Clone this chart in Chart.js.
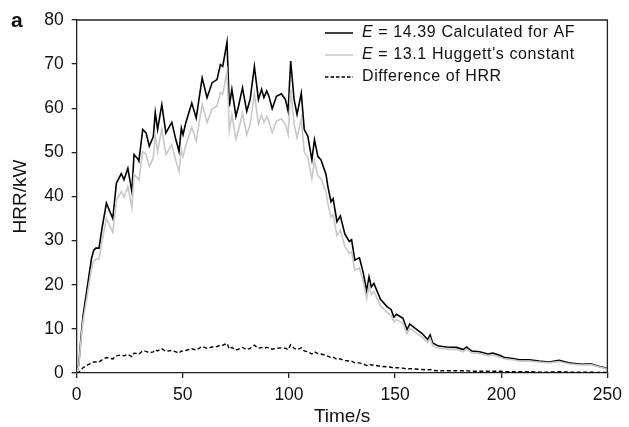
<!DOCTYPE html>
<html>
  <head>
    <title>HRR chart</title>
    <script src="https://cdn.jsdelivr.net/npm/chart.js"></script>
    <style>
      body { margin: 0; background: #fff; }
    </style>
  </head>
  <body>
    <canvas id="hrr-chart" width="629" height="427"></canvas>

    <script>
      // Data
      const timeS = [0, 1, 2, 3, 5, 7, 8, 9, 10.5, 12, 14, 17, 18.7, 21, 22.3, 24.1, 26, 27, 28.8, 29.3,
        31.1, 32.7, 34.2, 36.1, 37, 38.1, 40.1, 42, 44.8, 46.7, 48.2, 49.3, 50.1, 51.4, 54.2, 56.3, 59.1, 61.4, 63.8, 66.1,
        67.7, 68.8, 70.8, 71.9, 73.1, 75, 76.2, 78.1, 80.1, 81.7, 83.7, 85.6, 87.1, 88.2, 89.5, 90.5, 92.1, 94.1, 96.4, 98.3,
        99.6, 100.8, 102.4, 103.8, 105.8, 107.2, 108.9, 110.8, 112, 113.6, 115.1, 117.5, 118.3, 119.8, 120.8, 122.6, 124.2, 126.3, 128.4, 129.5,
        131, 133.2, 135, 136.6, 137.7, 138.8, 140, 143.1, 146.3, 148.1, 149.4, 150.7, 153.7, 155.6, 156.9, 159.5, 162.6, 165.3, 166.5, 167.7,
        170.4, 174.3, 178.9, 182.1, 183.6, 186, 189.8, 193.7, 196, 199.2, 201.5, 205.4, 208.5, 213.2, 217.8, 222.5, 227.2, 231.8, 238.1, 242,
        245.9, 250];

      const hrrAF = [0, 2, 8, 13, 19.5, 26, 27.8, 28.3, 28.3, 33, 38.5, 35, 43, 45.2, 43.8, 46.4, 41.1, 49.5, 48.5, 48,
        55.2, 54.4, 51.4, 53.6, 59, 55.2, 60.8, 54.4, 56.8, 52.9, 50.2, 55.5, 54, 56.7, 61.2, 57.8, 66.9, 62.4, 65.8, 66.5,
        69.9, 69.5, 75, 60.4, 64.3, 58.2, 60.4, 64.6, 59.3, 62, 69.5, 62, 64.3, 62.4, 63.9, 62.8, 59.9, 62.7, 63.3, 62,
        59.3, 70.7, 62, 58.6, 63.4, 55.2, 53.6, 48.3, 52.9, 49.1, 48.3, 44.9, 42.3, 38.8, 39.5, 34.3, 35.6, 31.5, 29.8, 30.2,
        25.6, 26.1, 22.7, 18.6, 21.8, 19.5, 20.3, 16.7, 15, 14.4, 12.7, 13.3, 12.4, 9.8, 11.1, 10.1, 9, 7.6, 8.6, 6.8,
        6.1, 5.9, 5.8, 5.3, 5.9, 5, 4.8, 4.3, 4.5, 4, 3.5, 3.3, 3, 3, 2.7, 2.5, 2.9, 2.3, 2, 2.1,
        1.5, 1];

      const hrrHuggett = [0, 1.8, 7.3, 11.8, 17.7, 23.7, 25.3, 25.8, 25.8, 30.0, 35.0, 31.9, 39.1, 41.1, 39.9, 42.2, 37.4, 45.0, 44.1, 43.7,
        50.2, 49.5, 46.8, 48.8, 53.7, 50.2, 55.3, 49.5, 51.7, 48.1, 45.7, 50.5, 49.1, 51.6, 55.7, 52.6, 60.9, 56.8, 59.9, 60.5,
        63.6, 63.2, 68.3, 55.0, 58.5, 53.0, 55.0, 58.8, 54.0, 56.4, 63.2, 56.4, 58.5, 56.8, 58.1, 57.1, 54.5, 57.1, 57.6, 56.4,
        54.0, 64.3, 56.4, 53.3, 57.7, 50.2, 48.8, 44.0, 48.1, 44.7, 44.0, 40.9, 38.5, 35.3, 35.9, 31.2, 32.4, 28.7, 27.1, 27.5,
        23.3, 23.8, 20.7, 16.9, 19.8, 17.7, 18.5, 15.2, 13.7, 13.1, 11.6, 12.1, 11.3, 8.9, 10.1, 9.2, 8.2, 6.9, 7.8, 6.2,
        5.6, 5.4, 5.3, 4.8, 5.4, 4.6, 4.4, 3.9, 4.1, 3.6, 3.2, 3.0, 2.7, 2.7, 2.5, 2.3, 2.6, 2.1, 1.8, 1.9,
        1.4, 0.9];

      const hrrDiff = [0, 0.2, 0.7, 1.2, 1.8, 2.3, 2.5, 2.5, 2.5, 3.0, 3.5, 3.2, 3.9, 4.1, 3.9, 4.2, 3.7, 4.5, 4.4, 4.3,
        5.0, 4.9, 4.6, 4.8, 5.3, 5.0, 5.5, 4.9, 5.1, 4.8, 4.5, 5.0, 4.9, 5.1, 5.5, 5.2, 6.0, 5.6, 5.9, 6.0,
        6.3, 6.3, 6.7, 5.4, 5.8, 5.2, 5.4, 5.8, 5.3, 5.6, 6.3, 5.6, 5.8, 5.6, 5.8, 5.7, 5.4, 5.6, 5.7, 5.6,
        5.3, 6.4, 5.6, 5.3, 5.7, 5.0, 4.8, 4.3, 4.8, 4.4, 4.3, 4.0, 3.8, 3.5, 3.6, 3.1, 3.2, 2.8, 2.7, 2.7,
        2.3, 2.3, 2.0, 1.7, 2.0, 1.8, 1.8, 1.5, 1.4, 1.3, 1.1, 1.2, 1.1, 0.9, 1.0, 0.9, 0.8, 0.7, 0.8, 0.6,
        0.5, 0.5, 0.5, 0.5, 0.5, 0.4, 0.4, 0.4, 0.4, 0.4, 0.3, 0.3, 0.3, 0.3, 0.2, 0.2, 0.3, 0.2, 0.2, 0.2,
        0.1, 0.1];

      const xTicks = [0, 50, 100, 150, 200, 250];
      const yTicks = [0, 10, 20, 30, 40, 50, 60, 70, 80];

      const toPoints = (ys) => timeS.map((t, i) => ({ x: t, y: ys[i] }));

      const FONT = "'Liberation Sans', Arial, sans-serif";
      const AXIS = '#222';

      // frame on top and right, legend with italic E, panel letter
      const extras = {
        id: 'extras',
        afterDraw(chart) {
          const ctx = chart.ctx;
          const a = chart.chartArea;
          ctx.save();
          ctx.strokeStyle = AXIS;
          ctx.lineWidth = 1.3;
          ctx.beginPath();
          ctx.moveTo(a.left, a.top);
          ctx.lineTo(a.right, a.top);
          ctx.lineTo(a.right, a.bottom);
          ctx.stroke();

          const items = [
            { color: '#000', dash: [], width: 1.5, rest: ' = 14.39 Calculated for AF' },
            { color: '#c8c8c8', dash: [], width: 1.5, rest: ' = 13.1 Huggett\'s constant' },
            { color: '#000', dash: [3.5, 2], width: 1.3, text: 'Difference of HRR' },
          ];
          const x0 = 325, x1 = 353, tx = 362;
          const rows = [33, 55, 77];
          ctx.textBaseline = 'middle';
          ctx.letterSpacing = '0.6px';
          items.forEach((it, i) => {
            const y = rows[i];
            ctx.strokeStyle = it.color;
            ctx.lineWidth = it.width;
            ctx.setLineDash(it.dash);
            ctx.beginPath();
            ctx.moveTo(x0, y);
            ctx.lineTo(x1, y);
            ctx.stroke();
            ctx.setLineDash([]);
            ctx.fillStyle = '#111';
            if (it.text) {
              ctx.font = '16px ' + FONT;
              ctx.fillText(it.text, tx, y);
            } else {
              ctx.font = 'italic 16px ' + FONT;
              ctx.fillText('E', tx, y);
              const w = ctx.measureText('E').width;
              ctx.font = '16px ' + FONT;
              ctx.fillText(it.rest, tx + w, y);
            }
          });
          ctx.letterSpacing = '0px';

          ctx.font = 'bold 21px ' + FONT;
          ctx.textBaseline = 'alphabetic';
          ctx.fillStyle = '#111';
          ctx.fillText('a', 11, 27);
          ctx.restore();
        }
      };

      const data = {
        datasets: [
          {
            label: 'Difference of HRR',
            data: toPoints(hrrDiff),
            borderColor: '#000',
            borderWidth: 1.4,
            borderDash: [4, 2.5],
          },
          {
            label: "E = 13.1 Huggett's constant",
            data: toPoints(hrrHuggett),
            borderColor: '#c8c8c8',
            borderWidth: 1.6,
          },
          {
            label: 'E = 14.39 Calculated for AF',
            data: toPoints(hrrAF),
            borderColor: '#000',
            borderWidth: 1.6,
          },
        ],
      };

      const options = {
        responsive: false,
        animation: false,
        layout: { padding: { top: 20, right: 17, left: 0, bottom: 0 } },
        elements: { point: { radius: 0 }, line: { tension: 0 } },
        plugins: { legend: { display: false }, tooltip: { enabled: false } },
        scales: {
          x: {
            type: 'linear',
            min: 0,
            max: 250,
            afterFit: (s) => { s.height = 54; },
            afterBuildTicks: (s) => { s.ticks = xTicks.map((v) => ({ value: v })); },
            grid: { display: true, drawOnChartArea: false, drawTicks: true, tickLength: 5, color: AXIS, lineWidth: 1.3 },
            border: { display: true, color: AXIS, width: 1.3 },
            ticks: { color: '#111', padding: 7, maxRotation: 0, font: { family: FONT, size: 17.5 } },
            title: { display: true, text: 'Time/s', color: '#111', padding: { top: 0, bottom: 0.5 }, font: { family: FONT, size: 19, lineHeight: 1 } },
          },
          y: {
            min: 0,
            max: 80,
            afterFit: (s) => { s.width = 76.7; },
            afterBuildTicks: (s) => { s.ticks = yTicks.map((v) => ({ value: v })); },
            grid: { display: true, drawOnChartArea: false, drawTicks: true, tickLength: 5, color: AXIS, lineWidth: 1.3 },
            border: { display: true, color: AXIS, width: 1.3 },
            ticks: { color: '#111', padding: 8, font: { family: FONT, size: 17.5 } },
            title: { display: true, text: 'HRR/kW', color: '#111', padding: { top: 11.5, bottom: 0 }, font: { family: FONT, size: 19, lineHeight: 1 } },
          },
        },
      };

      new Chart(document.getElementById('hrr-chart'), {
        type: 'line',
        data: data,
        options: options,
        plugins: [extras],
      });
    </script>
  </body>
</html>
